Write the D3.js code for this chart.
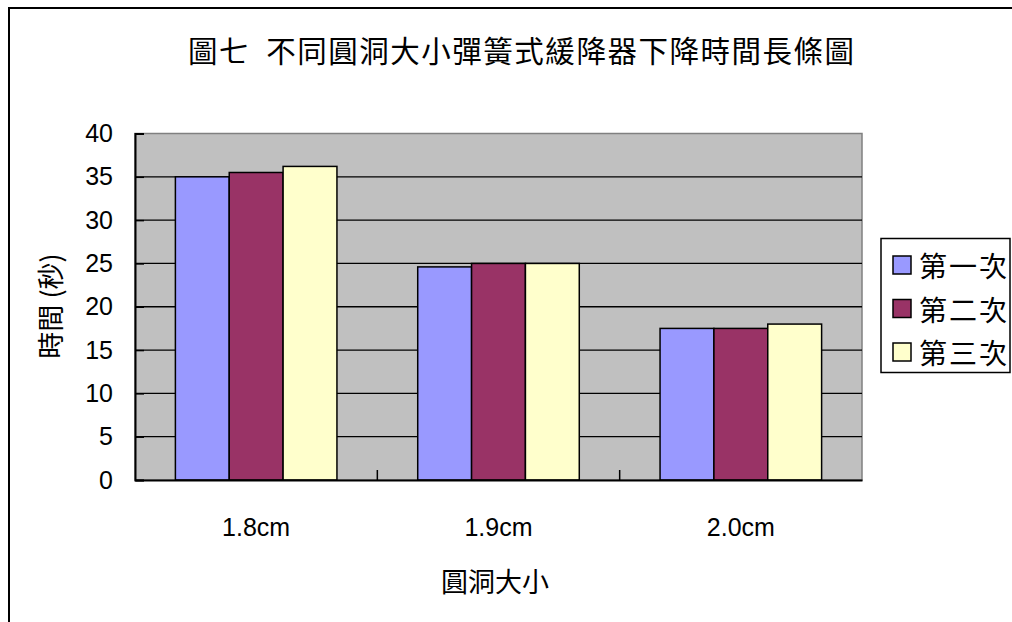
<!DOCTYPE html>
<html>
<head>
<meta charset="utf-8">
<script src="https://cdn.jsdelivr.net/npm/d3@7"></script>
<style>
  html, body { margin: 0; padding: 0; background: #fff; }
  svg { display: block; }
  .cjk { font-family: "Noto Sans CJK TC", "Noto Sans CJK SC", sans-serif; }
</style>
</head>
<body>
<svg id="chart" width="1012" height="622"></svg>
<script>
// Hole diameters of the spring descent device
const categories = ["1.8cm", "1.9cm", "2.0cm"];
// Descent time in seconds for each trial
const trial1 = [35.0, 24.6, 17.5];
const trial2 = [35.5, 25.0, 17.5];
const trial3 = [36.2, 25.0, 18.0];
const seriesNames = ["第一次", "第二次", "第三次"];
const seriesColors = ["#9999FF", "#993366", "#FFFFCC"];
const yTicks = [0, 5, 10, 15, 20, 25, 30, 35, 40];

const titleText = "圖七  不同圓洞大小彈簧式緩降器下降時間長條圖";
const xTitle = "圓洞大小";
const yTitle = "時間 (秒)";

const series = [trial1, trial2, trial3];

const svg = d3.select("#chart");

// Outer chart frame (extends past the page edge on the right and bottom)
svg.append("rect")
  .attr("x", 9).attr("y", 8)
  .attr("width", 1020).attr("height", 630)
  .attr("fill", "#fff").attr("stroke", "#000").attr("stroke-width", 2);

const plot = { left: 135, right: 862, top: 133.5, bottom: 480 };

const x = d3.scaleBand().domain(categories).range([plot.left, plot.right]).paddingInner(0).paddingOuter(0);
const y = d3.scaleLinear().domain([0, 40]).range([plot.bottom, plot.top]);

// Plot background
svg.append("rect")
  .attr("x", plot.left).attr("y", plot.top)
  .attr("width", plot.right - plot.left).attr("height", plot.bottom - plot.top)
  .attr("fill", "#C0C0C0").attr("stroke", "#808080").attr("stroke-width", 1.5);

// Horizontal gridlines
svg.append("g").selectAll("line")
  .data(yTicks.filter(t => t > 0 && t < 40))
  .join("line")
  .attr("x1", plot.left).attr("x2", plot.right)
  .attr("y1", d => y(d)).attr("y2", d => y(d))
  .attr("stroke", "#000").attr("stroke-width", 1.3);

// Bars: gap width 150% of bar width between groups
const bandW = x.bandwidth();
const barW = bandW / 4.5;
const gap = barW * 0.75;
const barData = [];
categories.forEach((c, ci) => {
  series.forEach((s, si) => {
    barData.push({ cat: c, si, value: s[ci] });
  });
});
svg.append("g").selectAll("rect")
  .data(barData)
  .join("rect")
  .attr("x", d => x(d.cat) + gap + d.si * barW)
  .attr("y", d => y(d.value))
  .attr("width", barW)
  .attr("height", d => y(0) - y(d.value))
  .attr("fill", d => seriesColors[d.si])
  .attr("stroke", "#000").attr("stroke-width", 1.5);

// Y axis
const yAxis = d3.axisLeft(y).tickValues(yTicks).tickSize(-9).tickPadding(22);
const gy = svg.append("g").attr("transform", `translate(${plot.left},0)`).call(yAxis);
gy.select(".domain").attr("stroke", "#000").attr("stroke-width", 2);
gy.selectAll(".tick line").attr("stroke", "#000").attr("stroke-width", 1.5);
gy.selectAll(".tick text")
  .attr("font-size", 25).attr("fill", "#000")
  .attr("font-family", "'Liberation Sans', Arial, sans-serif");

// X axis
const xAxis = d3.axisBottom(x).tickSize(0).tickPadding(0);
const gx = svg.append("g").attr("transform", `translate(0,${plot.bottom})`).call(xAxis);
gx.select(".domain").attr("stroke", "#000").attr("stroke-width", 2);
gx.selectAll(".tick text")
  .attr("font-size", 25).attr("fill", "#000")
  .attr("font-family", "'Liberation Sans', Arial, sans-serif")
  .attr("dy", null).attr("y", 56);

// Category separator ticks
svg.append("g").selectAll("line")
  .data(categories.slice(1))
  .join("line")
  .attr("x1", d => x(d)).attr("x2", d => x(d))
  .attr("y1", plot.bottom).attr("y2", plot.bottom - 10)
  .attr("stroke", "#000").attr("stroke-width", 1.5);

// Title
svg.append("text")
  .attr("class", "cjk")
  .attr("x", 188).attr("y", 49)
  .attr("dominant-baseline", "central")
  .attr("font-size", 29.5).attr("fill", "#000")
  .attr("textLength", 666).attr("lengthAdjust", "spacing")
  .style("white-space", "pre")
  .text(titleText);

// Axis titles
svg.append("text")
  .attr("class", "cjk")
  .attr("x", 495).attr("y", 580)
  .attr("text-anchor", "middle").attr("dominant-baseline", "central")
  .attr("font-size", 27).attr("fill", "#000")
  .text(xTitle);

svg.append("text")
  .attr("class", "cjk")
  .attr("transform", "translate(49,306) rotate(-90)")
  .attr("text-anchor", "middle").attr("dominant-baseline", "central")
  .attr("font-size", 27).attr("fill", "#000")
  .style("white-space", "pre")
  .text(yTitle);

// Legend
const legend = svg.append("g");
legend.append("rect")
  .attr("x", 881).attr("y", 238.5)
  .attr("width", 129).attr("height", 134)
  .attr("fill", "#fff").attr("stroke", "#000").attr("stroke-width", 1.5);
const rowY = [265, 308.5, 352];
const items = legend.selectAll("g.item")
  .data(seriesNames)
  .join("g").attr("class", "item")
  .attr("transform", (d, i) => `translate(0,${rowY[i]})`);
items.append("rect")
  .attr("x", 893).attr("y", -9)
  .attr("width", 18).attr("height", 18)
  .attr("fill", (d, i) => seriesColors[i])
  .attr("stroke", "#000").attr("stroke-width", 1.5);
items.append("text")
  .attr("class", "cjk")
  .attr("x", 919).attr("y", 0)
  .attr("dominant-baseline", "central")
  .attr("font-size", 28).attr("letter-spacing", 2).attr("fill", "#000")
  .text(d => d);
</script>
</body>
</html>
